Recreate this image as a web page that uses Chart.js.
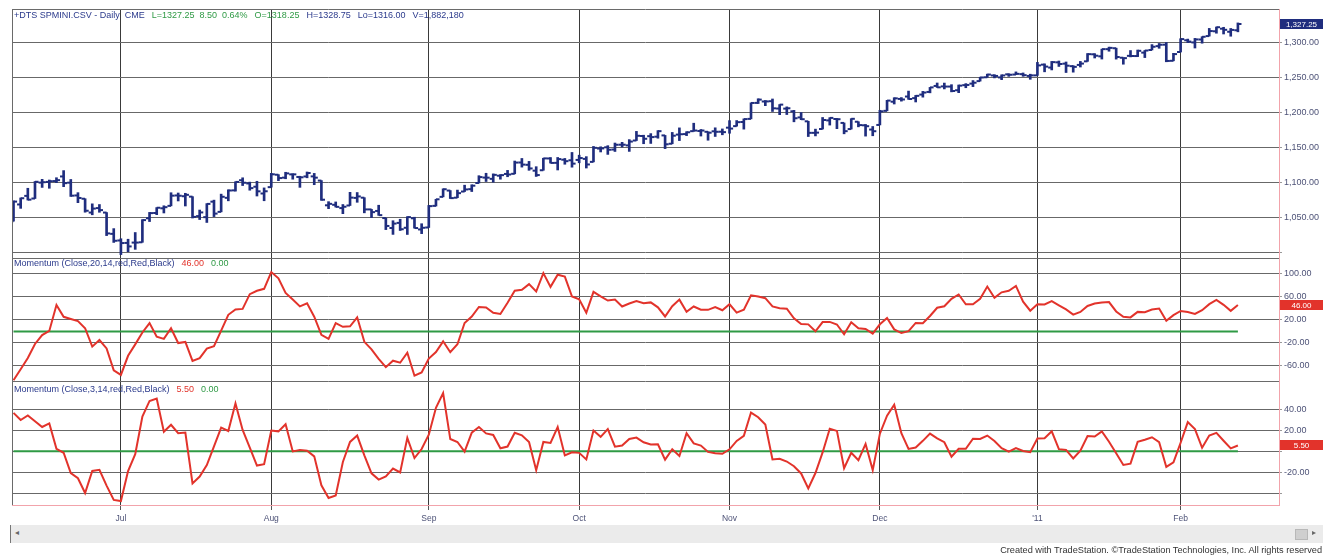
<!DOCTYPE html>
<html>
<head>
<meta charset="utf-8">
<script src="https://cdn.jsdelivr.net/npm/chart.js@4.4.1/dist/chart.umd.min.js"></script>
<style>
  html, body { margin: 0; padding: 0; background: #ffffff; }
  #wrap { position: relative; width: 1327px; height: 559px; overflow: hidden; font-family: "Liberation Sans", Arial, sans-serif; }
  #c { position: absolute; left: 0; top: 0; }
  #sb { position: absolute; left: 10px; top: 525px; width: 1312px; height: 18px; background: #ebebeb; border-left: 1px solid #777; }
  #sbl { position: absolute; left: 4px; top: 3px; font-size: 8px; color: #666; }
  #sbi { position: absolute; left: 1284px; top: 4px; width: 11px; height: 9px; background: #cfcfcf; border: 1px solid #b8b8b8; }
  #sbr { position: absolute; left: 1301px; top: 3px; font-size: 8px; color: #666; }
  #copy { position: absolute; right: 5px; top: 545px; font-size: 9.2px; color: #333; white-space: nowrap; }
</style>
</head>
<body>
<div id="wrap">
  <canvas id="c" width="1327" height="559"></canvas>
  <div id="sb"><span id="sbl">&#9666;</span><div id="sbi"></div><span id="sbr">&#9656;</span></div>
  <div id="copy">Created with TradeStation. ©TradeStation Technologies, Inc. All rights reserved</div>
</div>
<script>
// ---------------- DATA (daily bars, Jun 10 2010 .. Feb 11 2011) ----------------
const monthLabels = ['Jul', 'Aug', 'Sep', 'Oct', 'Nov', 'Dec', "'11", 'Feb'];
const monthStartIndex = [15, 36, 58, 79, 100, 121, 143, 163];

const priceGridTicks = [1000, 1050, 1100, 1150, 1200, 1250, 1300];
const priceLabelTicks = [1050, 1100, 1150, 1200, 1250, 1300];
const mom20GridTicks = [-60, -40, -20, 0, 20, 40, 60, 80, 100];
const mom20LabelTicks = [-60, -20, 20, 60, 100];
const mom3GridTicks = [-40, -20, 0, 20, 40];
const mom3LabelTicks = [-20, 20, 40];
const zeroLevel = 0;
const lastVolume = '1,882,180';

const openP = [
1044.8,1068.7,1081.0,1077.2,1100.0,1101.0,1102.2,1108.8,1099.9,1081.6,
1076.9,1057.1,1063.5,1057.1,1026.6,1017.1,1013.6,1014.1,1014.5,1048.9,
1056.5,1063.2,1066.7,1081.6,1080.5,1079.9,1052.0,1050.5,1072.7,1058.1,
1078.2,1088.9,1103.4,1098.8,1094.1,1084.4,1093.5,1111.3,1107.1,1111.8,
1108.1,1108.8,1108.9,1102.9,1067.5,1068.2,1063.5,1067.2,1078.1,1078.4,
1061.6,1059.4,1049.2,1035.0,1042.3,1035.3,1048.9,1032.9,1035.7,1066.7,
1079.6,1088.6,1078.4,1087.2,1090.6,1099.4,1107.2,1105.4,1109.9,1112.4,
1112.6,1128.8,1125.5,1117.1,1117.7,1134.6,1128.3,1132.8,1132.0,1132.5,
1134.0,1129.7,1148.8,1150.6,1147.4,1154.3,1153.3,1160.3,1166.8,1166.5,
1165.8,1167.6,1155.7,1168.8,1169.5,1173.7,1173.9,1172.8,1173.5,1172.9,
1178.7,1180.9,1186.8,1191.3,1214.2,1216.2,1216.6,1206.1,1206.0,1202.1,
1193.4,1187.8,1171.3,1176.8,1189.1,1191.1,1185.5,1176.7,1187.2,1182.1,
1176.0,1182.6,1202.8,1215.9,1219.9,1223.3,1221.0,1226.1,1229.9,1238.5,
1237.8,1237.6,1232.3,1239.6,1241.8,1245.4,1250.9,1253.5,1250.7,1255.1,
1254.8,1255.4,1252.8,1253.6,1269.0,1264.8,1272.3,1270.4,1266.8,1268.6,
1273.7,1283.8,1280.9,1291.2,1292.5,1278.9,1281.6,1281.3,1286.2,1290.0,
1295.5,1297.6,1274.5,1287.1,1303.9,1300.8,1305.0,1309.9,1316.8,1320.5,
1316.1,1318.25];

const highP = [
1073.9,1078.0,1091.9,1101.6,1104.7,1103.7,1107.0,1117.2,1104.5,1085.6,
1076.9,1069.6,1068.6,1057.1,1034.1,1019.6,1018.9,1028.5,1046.9,1057.3,
1064.2,1066.8,1085.5,1085.1,1084.7,1079.9,1060.7,1069.9,1074.9,1083.5,
1089.7,1101.2,1106.9,1100.7,1101.9,1092.4,1113.3,1111.4,1114.8,1112.6,
1109.1,1115.2,1113.2,1102.9,1072.7,1072.3,1068.6,1086.1,1085.8,1078.4,
1061.6,1067.6,1049.2,1045.4,1047.5,1051.2,1050.4,1041.1,1067.3,1076.1,
1091.1,1088.6,1089.3,1096.3,1096.9,1109.9,1113.4,1112.5,1111.4,1117.5,
1130.9,1134.6,1130.4,1122.8,1134.9,1135.9,1136.0,1134.6,1143.2,1139.3,
1137.2,1151.8,1151.3,1152.9,1156.7,1157.7,1161.6,1173.4,1167.9,1170.2,
1174.5,1167.6,1171.9,1178.4,1172.9,1185.1,1176.1,1172.8,1178.5,1176.9,
1188.8,1188.9,1191.3,1214.3,1220.1,1217.6,1219.8,1211.8,1208.5,1203.5,
1200.4,1187.8,1176.6,1193.3,1193.0,1191.9,1185.5,1191.6,1187.2,1183.3,
1180.4,1203.6,1217.9,1221.6,1221.8,1231.1,1224.9,1230.7,1236.4,1242.7,
1242.6,1240.3,1239.8,1241.8,1246.2,1251.0,1255.4,1254.6,1254.4,1255.9,
1258.6,1257.1,1255.3,1272.2,1270.1,1273.6,1274.2,1272.8,1267.5,1273.6,
1284.9,1284.7,1291.2,1294.1,1292.6,1278.9,1289.2,1289.9,1289.3,1297.7,
1299.3,1300.7,1285.2,1306.1,1305.6,1306.6,1309.0,1320.9,1322.9,1322.5,
1320.8,1328.75];

const lowP = [
1044.8,1063.1,1075.0,1077.2,1093.1,1091.9,1099.9,1094.2,1080.2,1071.3,
1057.6,1053.9,1057.5,1024.1,1014.3,996.9,1001.0,1004.4,1014.5,1044.2,
1054.1,1056.5,1066.7,1073.7,1066.5,1049.3,1047.1,1042.9,1051.3,1058.1,
1073.9,1087.8,1095.8,1089.1,1080.8,1074.0,1093.5,1102.8,1105.5,1104.9,
1093.2,1106.9,1097.0,1074.6,1062.7,1065.0,1055.5,1067.2,1071.8,1056.7,
1049.9,1053.1,1032.7,1025.8,1031.4,1025.7,1034.8,1026.9,1035.7,1066.4,
1079.6,1077.2,1078.4,1087.2,1087.2,1099.4,1101.6,1100.6,1104.9,1108.4,
1112.6,1122.2,1117.6,1108.8,1117.7,1128.0,1118.1,1126.3,1122.1,1128.4,
1120.9,1129.7,1143.9,1140.4,1144.6,1151.0,1144.7,1160.3,1155.7,1156.1,
1163.6,1148.7,1155.7,1160.2,1167.3,1173.7,1166.7,1160.7,1166.1,1168.5,
1170.7,1180.9,1176.6,1191.3,1213.3,1210.2,1201.9,1197.3,1197.5,1187.1,
1190.2,1166.0,1166.9,1176.8,1182.4,1177.3,1169.9,1176.7,1179.9,1166.6,
1167.1,1182.6,1202.8,1212.6,1216.7,1219.3,1215.5,1222.4,1228.6,1236.3,
1234.2,1230.0,1228.8,1235.9,1237.5,1245.4,1250.9,1250.0,1247.5,1252.2,
1254.8,1252.3,1248.0,1253.6,1258.7,1261.4,1266.4,1257.7,1258.2,1265.6,
1273.7,1278.5,1277.0,1288.2,1276.9,1269.6,1280.1,1280.5,1279.1,1290.0,
1292.4,1273.1,1274.5,1287.1,1300.6,1292.8,1299.7,1309.9,1314.0,1312.9,
1309.7,1316.0];

const closeP = [
1072.8,1077.6,1075.6,1101.2,1100.6,1102.0,1103.5,1099.2,1081.3,1078.0,
1059.7,1062.8,1060.6,1027.2,1016.7,1013.4,1008.6,1014.1,1046.3,1056.3,
1064.0,1064.8,1081.3,1081.2,1082.5,1050.9,1057.3,1069.5,1055.6,1079.7,
1088.7,1101.0,1099.8,1092.1,1087.5,1087.6,1111.9,1106.5,1113.2,1111.8,
1107.6,1113.8,1107.1,1075.5,1069.6,1065.3,1065.4,1078.5,1080.2,1061.6,
1057.7,1053.4,1037.9,1041.3,1033.2,1050.6,1034.9,1035.3,1066.3,1076.1,
1090.5,1077.8,1084.9,1090.2,1095.6,1107.9,1107.1,1111.1,1110.7,1111.6,
1128.7,1125.8,1120.3,1110.8,1134.7,1128.2,1133.7,1130.7,1127.2,1135.2,
1126.0,1149.8,1149.0,1147.1,1154.2,1154.3,1158.8,1167.1,1162.8,1165.2,
1173.7,1154.9,1167.2,1169.3,1172.1,1174.6,1174.6,1171.5,1172.8,1172.3,
1177.4,1186.6,1191.0,1214.1,1218.9,1216.3,1206.4,1211.7,1206.5,1192.2,
1190.8,1171.3,1171.6,1189.7,1192.7,1190.8,1173.7,1191.4,1182.4,1180.8,
1173.6,1202.1,1217.5,1220.7,1219.1,1219.8,1224.3,1229.0,1236.4,1236.5,
1237.6,1231.2,1238.9,1239.9,1243.1,1250.6,1254.8,1252.8,1253.5,1254.5,
1255.8,1253.9,1253.6,1267.9,1266.2,1272.6,1269.9,1267.5,1265.8,1270.5,
1284.0,1281.8,1291.2,1293.0,1279.9,1278.3,1281.4,1288.8,1289.2,1294.6,
1297.5,1274.3,1284.1,1305.6,1302.0,1305.1,1308.9,1317.1,1322.6,1318.9,
1318.75,1327.25];

const mom20 = [
-84.8,-65.8,-46.1,-21.7,-6.2,1.0,45.9,25.5,21.7,18.0,
5.7,-26.3,-14.8,-29.5,-67.7,-75.5,-42.3,-22.4,-1.7,14.6,
-8.9,-12.9,5.7,-20.1,-18.1,-51.2,-46.3,-29.7,-25.7,1.6,
29.0,38.3,39.3,64.9,70.8,74.2,103.3,92.4,67.0,55.6,
43.7,49.0,25.7,-5.7,-12.9,14.4,8.1,9.1,24.6,-18.0,
-31.0,-47.7,-62.0,-50.8,-54.3,-37.0,-76.9,-71.1,-47.0,-35.7,
-17.1,-36.0,-22.2,14.7,25.9,42.7,41.7,32.5,30.5,50.0,
71.0,72.4,82.4,69.5,101.5,77.6,98.8,95.4,60.9,56.1,
32.5,68.9,61.1,53.9,55.6,43.4,48.7,53.0,49.2,50.6,
42.0,26.1,43.9,55.4,34.4,43.5,37.9,37.7,42.6,37.0,
47.4,32.8,38.0,63.0,60.7,57.9,43.6,40.6,39.7,23.0,
13.0,12.4,0.4,16.4,16.7,12.2,-4.9,15.9,5.6,4.5,
-3.8,12.5,23.6,3.7,-2.7,0.5,14.9,14.3,26.9,41.3,
43.8,56.9,64.3,47.2,47.4,56.8,78.1,58.4,68.1,70.8,
79.2,51.8,36.1,47.2,47.1,52.8,45.6,38.5,29.4,34.0,
44.4,48.5,50.4,51.1,34.8,25.7,24.5,34.1,33.6,38.1,
39.8,18.5,28.5,35.7,33.8,30.5,37.0,47.6,54.8,46.4,
35.9,46.0];

const mom3 = [
36.4,29.6,33.9,28.4,23.0,26.4,2.3,-1.4,-20.7,-25.5,
-39.5,-18.6,-17.5,-32.5,-46.1,-47.2,-18.7,-2.7,32.9,47.7,
49.9,18.5,25.1,17.2,17.7,-30.5,-23.9,-13.0,4.7,22.4,
19.2,45.4,20.2,3.5,-13.5,-12.2,19.7,18.9,25.6,-0.1,
1.2,0.6,-4.8,-32.2,-44.2,-41.8,-10.1,8.9,14.9,-3.8,
-20.9,-26.8,-23.8,-16.4,-20.1,12.7,-6.4,2.1,15.7,41.2,
55.2,11.6,8.8,-0.3,17.7,23.0,16.9,15.5,2.8,4.5,
17.6,15.1,8.7,-17.9,8.9,7.9,22.9,-3.9,-1.0,-1.5,
-7.7,19.6,13.7,21.0,4.4,5.4,11.7,13.0,8.5,6.4,
6.6,-7.9,2.0,-4.5,17.2,7.5,5.4,-0.6,-1.8,-2.4,
1.9,9.8,14.7,36.7,32.3,25.3,-7.7,-7.1,-9.7,-14.2,
-21.0,-35.2,-20.6,-1.1,21.4,19.3,-16.0,-1.4,-8.4,7.0,
-17.8,16.7,33.8,44.2,17.1,2.2,3.6,9.9,16.7,12.2,
8.6,-5.2,2.4,2.3,11.9,11.7,14.9,9.7,2.9,-0.3,
3.0,0.3,-0.9,12.1,12.3,18.9,2.0,1.3,-6.8,0.6,
14.5,14.0,18.8,9.1,-1.8,-13.0,-11.7,8.9,10.9,13.3,
8.7,-14.8,-10.5,8.1,27.7,21.0,3.3,15.0,17.5,10.0,
2.8,5.5];

// ---------------- STYLE ----------------
const NAVY = '#1f2d7e';
const RED = '#e2332b';
const GREEN = '#2f9a45';
const BLUE_TXT = '#2b3a8c';
const AXIS_TXT = '#4d5277';
const PINK = '#f2a3ab';
const FONT = '"Liberation Sans", Arial, sans-serif';
const tickShift = 0.25;

// ---------------- BUILD DATASETS ----------------
const N = closeP.length;
const last = N - 1;
const idx = closeP.map((_, i) => i);
const hlData = idx.map(i => ({ x: i, y: [lowP[i], highP[i]] }));
const openData = idx.map(i => ({ x: i - tickShift, y: openP[i] }));
const closeData = idx.map(i => ({ x: i + tickShift, y: closeP[i] }));
const m20Data = idx.map(i => ({ x: i, y: mom20[i] }));
const m3Data = idx.map(i => ({ x: i, y: mom3[i] }));
const zeroData = [{ x: idx[0], y: zeroLevel }, { x: idx[last], y: zeroLevel }];

const fmtPrice = v => v.toLocaleString('en-US', { minimumFractionDigits: 2, maximumFractionDigits: 2 });
const chg = closeP[last] - closeP[last - 1];
const pct = chg / closeP[last - 1] * 100;

const headers = [
  { axis: 'y', dy: 6.5, parts: [
    ['+DTS SPMINI.CSV - Daily  CME', BLUE_TXT],
    ['L=' + closeP[last].toFixed(2) + '  ' + chg.toFixed(2) + '  ' + pct.toFixed(2) + '%', GREEN],
    ['O=' + openP[last].toFixed(2), GREEN],
    ['H=' + highP[last].toFixed(2), BLUE_TXT],
    ['Lo=' + lowP[last].toFixed(2), BLUE_TXT],
    ['V=' + lastVolume, BLUE_TXT]] },
  { axis: 'y2', dy: 5.5, parts: [
    ['Momentum (Close,20,14,red,Red,Black)', BLUE_TXT],
    [mom20[last].toFixed(2), RED],
    [zeroLevel.toFixed(2), GREEN]] },
  { axis: 'y3', dy: 8.5, parts: [
    ['Momentum (Close,3,14,red,Red,Black)', BLUE_TXT],
    [mom3[last].toFixed(2), RED],
    [zeroLevel.toFixed(2), GREEN]] }
];

const flags = [
  { axis: 'y', value: closeP[last], color: NAVY, text: fmtPrice(closeP[last]) },
  { axis: 'y2', value: mom20[last], color: RED, text: mom20[last].toFixed(2) },
  { axis: 'y3', value: mom3[last], color: RED, text: mom3[last].toFixed(2) }
];

const paneDecor = {
  id: 'paneDecor',
  afterDraw(chart) {
    const { ctx, chartArea: ca, scales } = chart;
    ctx.save();
    ctx.strokeStyle = '#6a6a6a';
    ctx.lineWidth = 1;
    ['y', 'y2', 'y3'].forEach(id => {
      const yy = Math.round(scales[id].top) + 0.5;
      ctx.beginPath(); ctx.moveTo(ca.left, yy); ctx.lineTo(ca.right, yy); ctx.stroke();
    });
    ctx.beginPath(); ctx.moveTo(ca.left + 0.5, ca.top); ctx.lineTo(ca.left + 0.5, ca.bottom); ctx.stroke();
    ctx.font = '9px ' + FONT;
    ctx.textBaseline = 'middle';
    ctx.textAlign = 'left';
    headers.forEach(h => {
      let x = ca.left + 2;
      const y = scales[h.axis].top + h.dy;
      h.parts.forEach(([t, c]) => {
        ctx.fillStyle = c;
        ctx.fillText(t, x, y);
        x += ctx.measureText(t).width + 7;
      });
    });
    flags.forEach(f => {
      const py = scales[f.axis].getPixelForValue(f.value);
      ctx.fillStyle = f.color;
      ctx.fillRect(ca.right + 1, Math.round(py - 5), 43, 10);
      ctx.fillStyle = '#ffffff';
      ctx.font = '8px ' + FONT;
      ctx.textAlign = 'center';
      ctx.fillText(f.text, ca.right + 22.5, py + 0.5);
    });
    ctx.restore();
  }
};

const yCommon = (weight, min, max, gridTicks, labelTicks, fmt) => ({
  type: 'linear', position: 'right', stack: 'panes', stackWeight: weight,
  min: min, max: max,
  afterBuildTicks: s => { s.ticks = gridTicks.map(v => ({ value: v })); },
  afterFit: s => { s.width = 48; },
  ticks: {
    color: AXIS_TXT, font: { size: 9, family: FONT }, padding: 2,
    callback: v => labelTicks.includes(v) ? fmt(v) : ''
  },
  grid: { color: '#686868', lineWidth: 1, drawTicks: true, tickLength: 3, tickColor: '#999999', offset: false },
  border: { display: true, color: PINK, width: 1 }
});

new Chart(document.getElementById('c'), {
  type: 'scatter',
  data: {
    datasets: [
      { type: 'bar', data: hlData, yAxisID: 'y', backgroundColor: NAVY, borderWidth: 0, barThickness: 2, grouped: false, order: 2 },
      { type: 'scatter', data: openData, yAxisID: 'y', showLine: false, pointStyle: 'line', pointRadius: 1.8, borderColor: NAVY, borderWidth: 2, order: 2 },
      { type: 'scatter', data: closeData, yAxisID: 'y', showLine: false, pointStyle: 'line', pointRadius: 1.8, borderColor: NAVY, borderWidth: 2, order: 2 },
      { type: 'line', data: m20Data, yAxisID: 'y2', borderColor: RED, borderWidth: 2, pointRadius: 0, tension: 0, order: 1 },
      { type: 'line', data: zeroData, yAxisID: 'y2', borderColor: GREEN, borderWidth: 2, pointRadius: 0, order: 5 },
      { type: 'line', data: m3Data, yAxisID: 'y3', borderColor: RED, borderWidth: 2, pointRadius: 0, tension: 0, order: 1 },
      { type: 'line', data: zeroData, yAxisID: 'y3', borderColor: GREEN, borderWidth: 2, pointRadius: 0, order: 5 }
    ]
  },
  options: {
    responsive: false,
    animation: false,
    devicePixelRatio: 1,
    events: [],
    layout: { padding: { left: 12, top: 9, right: 0, bottom: 34 } },
    plugins: { legend: { display: false }, tooltip: { enabled: false } },
    scales: {
      x: {
        type: 'linear', min: -0.21, max: 176.74, offset: false,
        afterBuildTicks: s => { s.ticks = monthStartIndex.map(v => ({ value: v })); },
        afterFit: s => { s.height = 20; },
        ticks: {
          autoSkip: false, maxRotation: 0, color: AXIS_TXT, font: { size: 8.5, family: FONT }, padding: 4,
          callback: v => { const k = monthStartIndex.indexOf(v); return k >= 0 ? monthLabels[k] : ''; }
        },
        grid: { color: '#3a3a3a', lineWidth: 1, drawTicks: true, tickLength: 5, tickColor: '#555555', offset: false },
        border: { display: true, color: PINK, width: 1 }
      },
      y: yCommon(249, 992, 1348.7, priceGridTicks, priceLabelTicks, fmtPrice),
      y2: yCommon(123, -86.1, 127.8, mom20GridTicks, mom20LabelTicks, v => v.toFixed(2)),
      y3: yCommon(124, -50.9, 66.6, mom3GridTicks, mom3LabelTicks, v => v.toFixed(2))
    }
  },
  plugins: [paneDecor]
});
</script>
</body>
</html>
